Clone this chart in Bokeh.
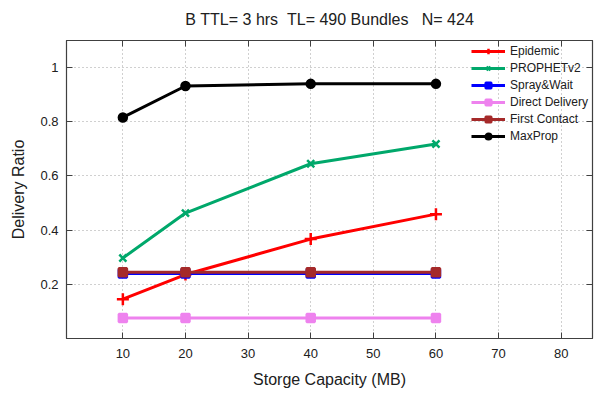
from bokeh.plotting import figure
from bokeh.models import FixedTicker, LinearAxis, Range1d, Legend, LegendItem, Title
from bokeh.embed import file_html
from bokeh.resources import INLINE

# ---- data ----
capacity = [10, 20, 40, 60]
epidemic = [0.145, 0.236, 0.367, 0.459]
prophet = [0.297, 0.463, 0.645, 0.718]
spray_wait = [0.240, 0.240, 0.240, 0.240]
direct_delivery = [0.076, 0.076, 0.076, 0.076]
first_contact = [0.245, 0.245, 0.245, 0.245]
maxprop = [0.816, 0.932, 0.940, 0.940]

series_names = ["Epidemic", "PROPHETv2", "Spray&Wait", "Direct Delivery", "First Contact", "MaxProp"]
x_ticks = [10, 20, 30, 40, 50, 60, 70, 80]
y_ticks = [0.2, 0.4, 0.6, 0.8, 1.0]
y_tick_labels = ["0.2", "0.4", "0.6", "0.8", "1"]

title_text = "B TTL= 3 hrs  TL= 490 Bundles   N= 424".replace(" ", "\u00a0")

FONT = "Liberation Sans"

p = figure(width=596, height=390, output_backend="svg", toolbar_location=None,
           x_range=Range1d(1, 85), y_range=Range1d(0, 1.1),
           min_border_left=66, min_border_right=4, min_border_top=40, min_border_bottom=50,
           x_axis_label="Storge Capacity (MB)", y_axis_label="Delivery Ratio")

p.title.text = title_text
p.title.align = "center"
p.title.text_font = FONT
p.title.text_font_size = "16px"
p.title.text_font_style = "normal"
p.title.text_color = "#202020"
p.title.offset = 4
p.title.standoff = 0

p.background_fill_color = "white"
p.border_fill_color = "white"
p.outline_line_color = "#404040"
p.outline_line_width = 1.2

for ax in (p.xaxis[0], p.yaxis[0]):
    ax.major_tick_in = 6
    ax.major_tick_out = 0
    ax.minor_tick_in = 0
    ax.minor_tick_out = 0
    ax.axis_line_color = "#404040"
    ax.major_tick_line_color = "#404040"
    ax.major_label_text_font = FONT
    ax.major_label_text_font_size = "13px"
    ax.major_label_text_color = "#202020"
    ax.axis_label_text_font = FONT
    ax.axis_label_text_font_size = "16px"
    ax.axis_label_text_font_style = "normal"
    ax.axis_label_text_color = "#202020"

p.xaxis[0].ticker = FixedTicker(ticks=x_ticks)
p.yaxis[0].ticker = FixedTicker(ticks=y_ticks)
p.yaxis[0].major_label_overrides = dict(zip(y_ticks, y_tick_labels))
p.xaxis[0].major_label_standoff = 10
p.yaxis[0].major_label_standoff = 8
p.xaxis[0].axis_label_standoff = 10
p.yaxis[0].axis_label_standoff = 10

# mirror axes (ticks only)
right_ax = LinearAxis(ticker=FixedTicker(ticks=y_ticks),
                      major_label_overrides={t: "" for t in y_ticks},
                      major_tick_in=6, major_tick_out=0, minor_tick_in=0, minor_tick_out=0,
                      axis_line_color="#404040", major_tick_line_color="#404040")
top_ax = LinearAxis(ticker=FixedTicker(ticks=x_ticks),
                    major_label_overrides={t: "" for t in x_ticks},
                    major_tick_in=6, major_tick_out=0, minor_tick_in=0, minor_tick_out=0,
                    axis_line_color="#404040", major_tick_line_color="#404040")
p.add_layout(right_ax, "right")
p.add_layout(top_ax, "above")
# spacer between title and frame
p.add_layout(Title(text="\u00a0", text_font_size="10px", standoff=0), "above")

p.xgrid.ticker = FixedTicker(ticks=x_ticks)
p.ygrid.ticker = FixedTicker(ticks=y_ticks)
for g in (p.xgrid[0], p.ygrid[0]):
    g.grid_line_color = "#a0a0a0"
    g.grid_line_dash = "1 3"
    g.grid_line_width = 1

series = [
    (epidemic, "#ff0000", "cross", 12),
    (prophet, "#00a86b", "x", 10),
    (spray_wait, "#0000ff", "square", 8),
    (direct_delivery, "#ee82ee", "square", 8),
    (first_contact, "#a52a2a", "square", 8),
    (maxprop, "#000000", "circle", 8),
]

items = []
for name, (vals, color, marker, size) in zip(series_names, series):
    r1 = p.line(capacity, vals, line_color=color, line_width=3)
    r2 = p.scatter(capacity, vals, marker=marker, size=size, line_color=color,
                   fill_color=color, line_width=2.5)
    items.append(LegendItem(label=name, renderers=[r1, r2]))

legend = Legend(items=items, location="top_right", background_fill_alpha=0,
                border_line_color=None, label_text_font=FONT, label_text_font_size="12px",
                label_text_color="#202020", glyph_width=34, glyph_height=14,
                label_height=14, spacing=3, padding=8, margin=4)
p.add_layout(legend, "center")

open("out.html", "w").write(file_html(p, INLINE))
